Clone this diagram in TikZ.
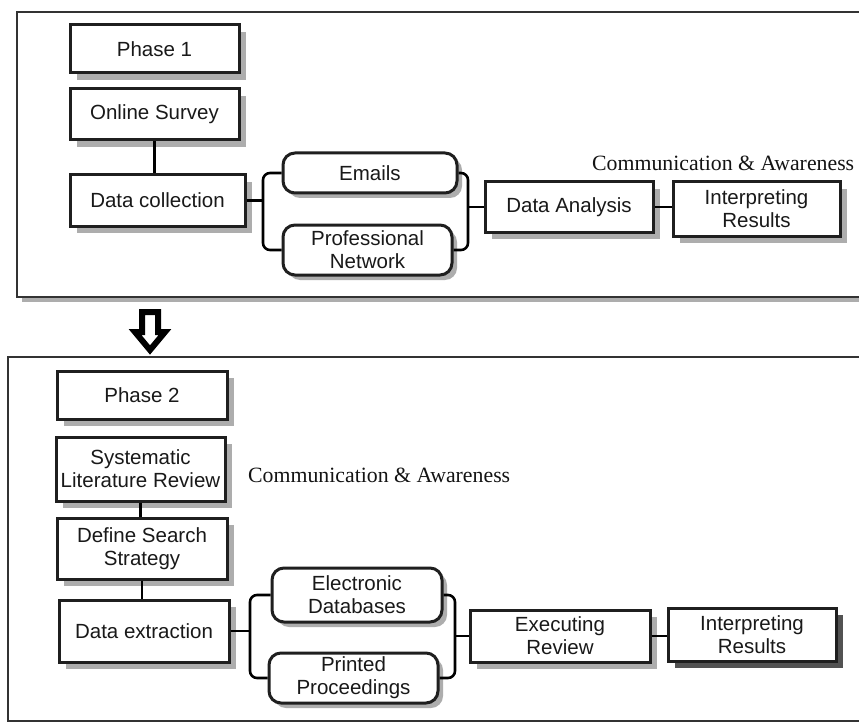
\documentclass[tikz,border=0pt]{standalone}
\usepackage{fontspec}
\setmainfont{Liberation Sans}
\newfontfamily\notefont{Liberation Serif}
\usetikzlibrary{shadows}
\begin{document}
\begin{tikzpicture}[x=1pt,y=-1pt,
  every node/.style={font=\fontsize{20.5}{23}\selectfont, text=black!90},
  stagebox/.style={draw=black!88, line width=3pt, fill=white, inner sep=0pt, align=center,
    drop shadow={shadow xshift=7pt, shadow yshift=-7pt, fill=black!32, opacity=1}},
  darkbox/.style={draw=black!88, line width=3pt, fill=white, inner sep=0pt, align=center,
    drop shadow={shadow xshift=7pt, shadow yshift=-7pt, fill=black!68, opacity=1}},
  sourcebox/.style={draw=black!88, line width=3pt, fill=white, inner sep=0pt, align=center,
    rounded corners=12pt,
    drop shadow={shadow xshift=5pt, shadow yshift=-5pt, fill=black!32, opacity=1}},
  frame/.style={draw=black!80, line width=2.6pt, fill=white},
  link/.style={draw=black, line width=2.6pt, rounded corners=7pt},
  note/.style={font=\notefont\fontsize{21.8}{25}\selectfont, text=black!92, anchor=west, inner sep=0pt}]
\useasboundingbox (0,0) rectangle (859,722);
\clip (0,0) rectangle (859,722);
\fill[white] (0,0) rectangle (859,722);

% phase frames
\fill[black!32] (22,17) rectangle (880,302);
\draw[frame] (17,12) rectangle (875,297);
\draw[frame] (8,357) rectangle (875,721);

% block arrow between the phases
\draw[line width=6pt, line join=miter, fill=white]
  (142,312) -- (158,312) -- (158,332) -- (165,332) -- (150,350)
  -- (135,332) -- (142,332) -- cycle;

% ---- Phase 1 ----
\node[stagebox, minimum width=169pt, minimum height=48pt] (p1) at (154.5,49) {Phase 1};
\node[stagebox, minimum width=169pt, minimum height=51pt] (os) at (154.5,114.5) {Online Survey};
\node[stagebox, minimum width=175pt, minimum height=51pt] (dc) at (157.5,200.5) {Data collection};
\node[sourcebox, minimum width=174pt, minimum height=40pt] (em) at (370,173) {Emails};
\node[sourcebox, minimum width=169pt, minimum height=50pt] (pn) at (367.5,250) {Professional\\Network};
\node[stagebox, minimum width=168pt, minimum height=50pt] (da) at (569,207) {Data Analysis};
\node[stagebox, minimum width=167pt, minimum height=54pt] (ir1) at (756.5,209) {Interpreting\\Results};
\node[note] (comm1) at (592,163) {Communication \& Awareness};

\coordinate (j1) at (263,200.5);
\coordinate (j2) at (468,207);
\draw[link] (os.south) -- (os.south |- dc.north);
\draw[link] (dc.east) -- (j1);
\draw[link] (em.west) -| (j1) |- (pn.west);
\draw[link] (em.east) -| (j2) |- (pn.east);
\draw[link] (j2) -- (da.west);
\draw[link] (da.east) -- (da.east -| ir1.west);

% ---- Phase 2 ----
\node[stagebox, minimum width=170pt, minimum height=48pt] (p2) at (142,395) {Phase 2};
\node[stagebox, minimum width=169pt, minimum height=64pt] (slr) at (140.5,469) {Systematic\\Literature Review};
\node[stagebox, minimum width=170pt, minimum height=61pt] (dss) at (142,548.5) {Define Search\\Strategy};
\node[stagebox, minimum width=170pt, minimum height=62pt] (de) at (144,631) {Data extraction};
\node[sourcebox, minimum width=170pt, minimum height=54pt] (ed) at (357,595) {Electronic\\Databases};
\node[sourcebox, minimum width=169pt, minimum height=50pt] (pp) at (353.5,678) {Printed\\Proceedings};
\node[stagebox, minimum width=180pt, minimum height=52pt] (er) at (560,636) {Executing\\Review};
\node[darkbox, minimum width=168pt, minimum height=53pt] (ir2) at (752,634.5) {Interpreting\\Results};
\node[note] (comm2) at (248,475) {Communication \& Awareness};

\coordinate (j3) at (250,631);
\coordinate (j4) at (455,636);
\draw[link] (slr.south) -- (slr.south |- dss.north);
\draw[link] (dss.south) -- (dss.south |- de.north);
\draw[link] (de.east) -- (j3);
\draw[link] (ed.west) -| (j3) |- (pp.west);
\draw[link] (ed.east) -| (j4) |- (pp.east);
\draw[link] (j4) -- (er.west);
\draw[link] (er.east) -- (er.east -| ir2.west);
\end{tikzpicture}
\end{document}
